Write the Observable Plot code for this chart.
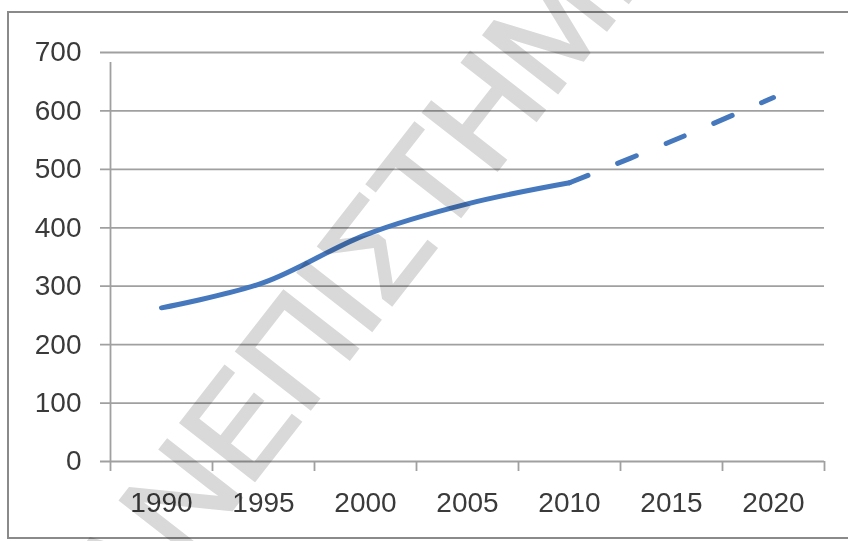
<!DOCTYPE html>
<html>
<head>
<meta charset="utf-8">
<script src="https://cdn.jsdelivr.net/npm/d3@7"></script>
<script src="https://cdn.jsdelivr.net/npm/@observablehq/plot@0.6"></script>
<style>
  html, body { margin: 0; padding: 0; background: #fff; }
  #chart svg { display: block; }
</style>
</head>
<body>
<div id="chart"></div>
<script>
// Data
const yearLabels = [1990, 1995, 2000, 2005, 2010, 2015, 2020];
const actualYears = [1990, 1995, 2000, 2005, 2010];
const actualValues = [263, 306, 388, 441, 477];
const projectedYears = [2010, 2015, 2020];
const projectedValues = [477, 548, 623];
const yTicks = [0, 100, 200, 300, 400, 500, 600, 700];
const categoryBounds = [1987.5, 1992.5, 1997.5, 2002.5, 2007.5, 2012.5, 2017.5, 2022.5];
const watermarkBefore = "ΠΑΝ";
const watermarkAfter = "ΕΠΙΣΤΗΜΙΟ";

const actual = actualYears.map((y, i) => ({year: y, value: actualValues[i]}));
const projected = projectedYears.map((y, i) => ({year: y, value: projectedValues[i]}));

const gridColor = "#a0a0a0";
const blue = "#4678be";

const chart = Plot.plot({
  width: 848,
  height: 541,
  marginLeft: 110,
  marginRight: 24,
  marginTop: 52,
  marginBottom: 80,
  style: {fontFamily: "'Liberation Sans', Arial, sans-serif", fontSize: "28px", color: "#3a3a3a", background: "#fff"},
  x: {type: "linear", domain: [1987.5, 2022.5], label: null},
  y: {domain: [0, 700], label: null},
  marks: [
    Plot.ruleY(yTicks, {stroke: gridColor, strokeWidth: 1.8, insetLeft: -10}),
    Plot.ruleX([1987.5], {y1: 0, y2: 700, stroke: gridColor, strokeWidth: 1.8, insetBottom: -10}),
    Plot.axisX({ticks: categoryBounds, tickSize: 10, tickFormat: () => "", stroke: gridColor, strokeWidth: 1.8, label: null}),
    Plot.axisX({ticks: yearLabels, tickSize: 0, tickPadding: 31, tickFormat: d => String(d), label: null, fill: "#3a3a3a"}),
    Plot.axisY({ticks: yTicks, tickSize: 0, tickPadding: 29, label: null, fill: "#3a3a3a"}),
    Plot.line(actual, {x: "year", y: "value", stroke: blue, strokeWidth: 5, curve: "catmull-rom", strokeLinecap: "round"}),
    Plot.line(projected, {x: "year", y: "value", stroke: blue, strokeWidth: 5, curve: "catmull-rom", strokeLinecap: "round", strokeDasharray: "20,32"})
  ]
});

const svg = d3.select(chart);
// outer chart border
svg.append("rect")
  .attr("x", 8).attr("y", 12).attr("width", 852).attr("height", 526)
  .attr("fill", "none").attr("stroke", "#8a8a8a").attr("stroke-width", 2);

// diagonal watermark
const wm = svg.append("g")
  .attr("transform", "translate(248,489) rotate(-52)")
  .attr("fill", "#d9d9d9").attr("stroke", "#d9d9d9").attr("stroke-width", 3)
  .style("mix-blend-mode", "multiply")
  .attr("font-family", "'Liberation Sans', Arial, sans-serif")
  .attr("font-size", 136);
wm.append("text").attr("text-anchor", "end").text(watermarkBefore);
wm.append("text").attr("text-anchor", "start").text(watermarkAfter);

document.getElementById("chart").appendChild(chart);
</script>
</body>
</html>
